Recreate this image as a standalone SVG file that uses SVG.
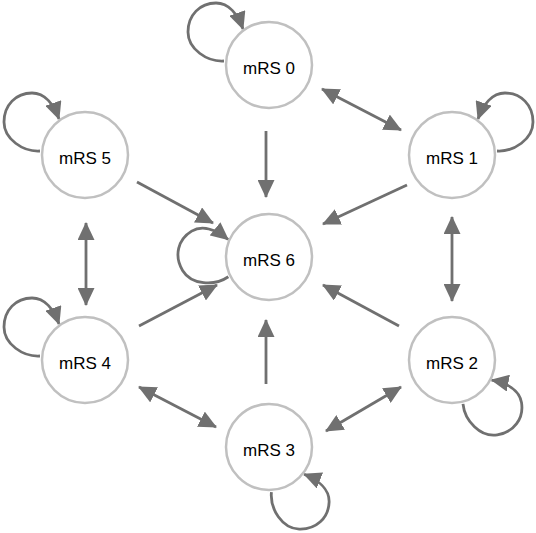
<svg xmlns="http://www.w3.org/2000/svg" width="536" height="533" viewBox="0 0 536 533">
<defs>
<marker id="ah" markerUnits="userSpaceOnUse" markerWidth="18" markerHeight="17" refX="17" refY="8.5" orient="auto-start-reverse" viewBox="0 0 18 17">
<path d="M0,0 L18,8.5 L0,17 z" fill="#707070"/>
</marker>
<path id="loop" d="M -45,-4 C -62,-3 -81,-16 -81,-33 C -81,-50 -69,-62 -53,-62 C -40,-62 -31,-50 -26,-36"/>
</defs>
<style>
.node circle{fill:#fff;stroke:#c0c0c0;stroke-width:2.5}
.node text{font-family:"Liberation Sans",Arial,sans-serif;font-size:17px;fill:#000;text-anchor:middle}
#edges line,#edges use{stroke:#707070;stroke-width:2.8;fill:none}
.one{marker-end:url(#ah)}
.two{marker-start:url(#ah);marker-end:url(#ah)}
</style>
<rect width="536" height="533" fill="#fff"/>
<g id="edges">
<line class="two" x1="322" y1="89" x2="401" y2="130"/>
<line class="one" x1="407" y1="185" x2="323" y2="224"/>
<line class="two" x1="452" y1="217" x2="452" y2="301"/>
<line class="one" x1="399" y1="326" x2="323" y2="285"/>
<line class="two" x1="401" y1="387" x2="326" y2="431"/>
<line class="one" x1="266" y1="384" x2="266" y2="320"/>
<line class="two" x1="139" y1="387" x2="216" y2="427"/>
<line class="one" x1="139" y1="326" x2="217" y2="285"/>
<line class="two" x1="86" y1="223" x2="86" y2="305"/>
<line class="one" x1="137" y1="182" x2="213" y2="223"/>
<line class="one" x1="266" y1="131" x2="266" y2="197"/>
<use href="#loop" class="one" transform="translate(269,65)"/>
<use href="#loop" class="one" transform="translate(452,155) scale(-1,1)"/>
<use href="#loop" class="one" transform="translate(452,360) rotate(81) scale(-1,1)"/>
<use href="#loop" class="one" transform="translate(269,447) rotate(92) scale(-1,1)"/>
<use href="#loop" class="one" transform="translate(85,360)"/>
<use href="#loop" class="one" transform="translate(85,155)"/>
<use href="#loop" class="one" transform="translate(269,257) rotate(-31)"/>
</g>
<g id="n0" class="node"><circle cx="269" cy="65" r="43"/><text x="269" y="74">mRS 0</text></g>
<g id="n1" class="node"><circle cx="452" cy="155" r="43"/><text x="452" y="164">mRS 1</text></g>
<g id="n2" class="node"><circle cx="452" cy="360" r="43"/><text x="452" y="369">mRS 2</text></g>
<g id="n3" class="node"><circle cx="269" cy="447" r="43"/><text x="269" y="456">mRS 3</text></g>
<g id="n4" class="node"><circle cx="85" cy="360" r="43"/><text x="85" y="369">mRS 4</text></g>
<g id="n5" class="node"><circle cx="85" cy="155" r="43"/><text x="85" y="164">mRS 5</text></g>
<g id="n6" class="node"><circle cx="269" cy="257" r="43"/><text x="269" y="266">mRS 6</text></g>
</svg>
